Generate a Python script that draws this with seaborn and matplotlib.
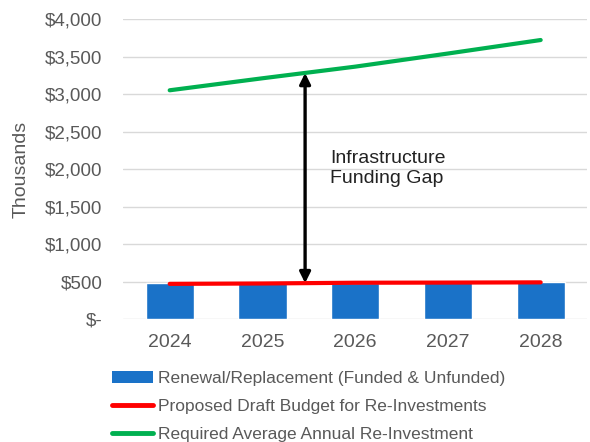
import matplotlib
matplotlib.use("Agg")
import matplotlib.pyplot as plt
import seaborn as sns
import numpy as np
import pandas as pd
from matplotlib.patches import Patch
from matplotlib.lines import Line2D
from matplotlib.ticker import FuncFormatter

years = ["2024", "2025", "2026", "2027", "2028"]
renewal = [475, 478, 485, 490, 495]
budget = [470, 475, 485, 487, 490]
required = [3050, 3210, 3365, 3540, 3720]
labels = ["Renewal/Replacement (Funded & Unfunded)",
          "Proposed Draft Budget for Re-Investments",
          "Required Average Annual Re-Investment"]

sns.set_theme(style="white")
plt.rcParams['font.family'] = ['Liberation Sans', 'DejaVu Sans']

fig = plt.figure(figsize=(5.9, 4.42), dpi=100)
ax = fig.add_axes([0.209, 0.278, 0.786, 0.679])

df = pd.DataFrame({"year": years, "renewal": renewal})
sns.barplot(data=df, x="year", y="renewal", color="#1A72C8", saturation=1,
            width=0.52, ax=ax, zorder=2)
xs = np.arange(len(years))
sns.lineplot(x=xs, y=budget, color="#FF0000", linewidth=3, ax=ax, zorder=3, sort=False)
sns.lineplot(x=xs, y=required, color="#00B050", linewidth=3, ax=ax, zorder=3, sort=False)

ax.set_ylim(0, 4000)
ax.set_xlim(-0.5, 4.5)
ax.set_yticks(np.arange(0, 4001, 500))
ax.yaxis.set_major_formatter(FuncFormatter(lambda v, p: "$-" if v == 0 else f"${v:,.0f}"))
ax.grid(axis="y", color="#D9D9D9", linewidth=1, zorder=0)
ax.set_axisbelow(True)
for s in ax.spines.values():
    s.set_visible(False)
ax.tick_params(axis="y", length=0, labelsize=13.5, colors="#595959", pad=15)
ax.tick_params(axis="x", length=0, labelsize=14, colors="#595959", pad=11)
ax.set_xlabel("")
ax.set_ylabel("Thousands", fontsize=14, color="#595959", labelpad=11)

ax.annotate("", xy=(1.46, 3280), xytext=(1.46, 480),
            arrowprops=dict(arrowstyle="<|-|>", color="black", lw=2.4,
                            mutation_scale=16, shrinkA=0, shrinkB=0), zorder=4)
ax.text(1.73, 2010, "Infrastructure\nFunding Gap", fontsize=14, color="#222222",
        va="center", ha="left", linespacing=1.25)

handles = [Patch(facecolor="#1A72C8", edgecolor="none"),
           Line2D([0], [0], color="#FF0000", lw=3.5),
           Line2D([0], [0], color="#00B050", lw=3.5)]
fig.legend(handles, labels, loc="upper left", bbox_to_anchor=(0.19, 0.16),
           frameon=False, fontsize=12.5, labelcolor="#595959", handlelength=2.35,
           handletextpad=0.3, labelspacing=0.72, borderaxespad=0, borderpad=0)

fig.savefig("out.png", dpi=100)
